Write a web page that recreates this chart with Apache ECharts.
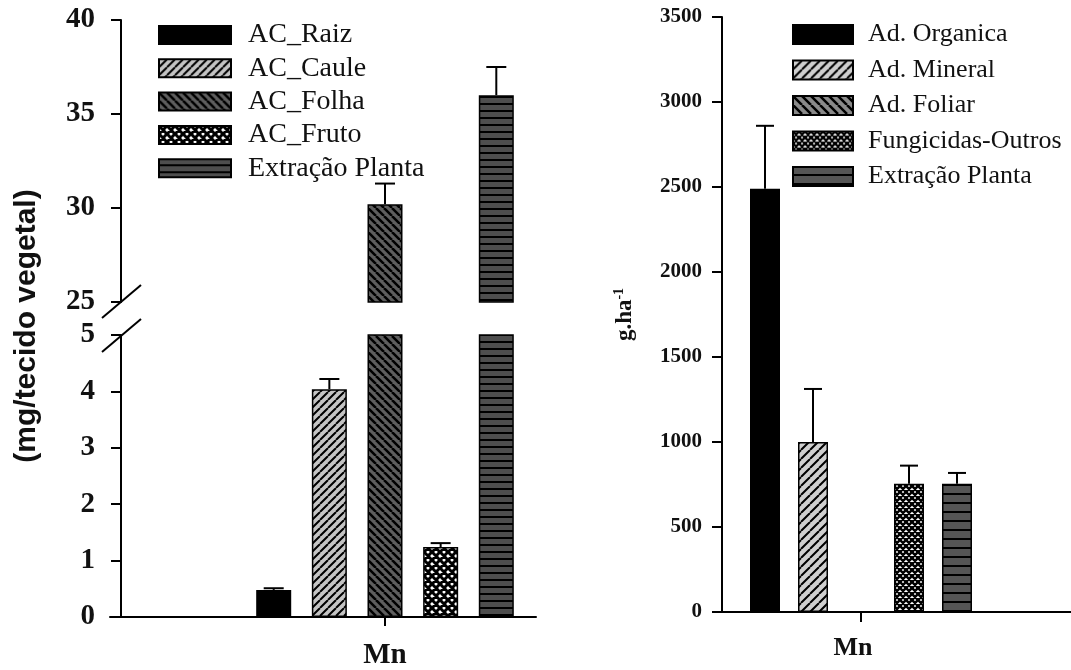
<!DOCTYPE html>
<html>
<head>
<meta charset="utf-8">
<title>Mn</title>
<script src="https://cdn.jsdelivr.net/npm/echarts@6.0.0/dist/echarts.min.js"></script>
<style>
  html, body { margin: 0; padding: 0; background: #fff; }
  #chart { width: 1071px; height: 670px; }
</style>
</head>
<body>
<div id="chart"></div>
<script>
// painel esquerdo: acumulo por orgao (mg/tecido vegetal), eixo quebrado 5 -> 25
const leftCategories = ['Mn'];
const leftNames = ['AC_Raiz', 'AC_Caule', 'AC_Folha', 'AC_Fruto', 'Extração Planta'];
const leftValues = [0.48, 4.04, 30.2, 1.24, 36.0];
const leftErrors = [0.03, 0.18, 1.1, 0.07, 1.5];
const leftLowerRange = [0, 5];
const leftUpperRange = [25, 40];

// painel direito: fontes de Mn (g.ha-1)
const rightCategories = ['Mn'];
const rightNames = ['Ad. Organica', 'Ad. Mineral', 'Ad. Foliar', 'Fungicidas-Outros', 'Extração Planta'];
const rightValues = [2490, 1000, 0, 755, 755];
const rightErrors = [370, 312, 0, 106, 63];
const rightRange = [0, 3500];

const SERIF = '"Liberation Serif", "Times New Roman", serif';
const LEFT_AXIS_X = 121;
const LEFT_PITCH = 35 * 1.59;
const RIGHT_PITCH = 30 * 1.6;

// hachuras via canvas
function pattern(size, bg, draw) {
  const c = document.createElement('canvas');
  c.width = size; c.height = size;
  const g = c.getContext('2d');
  g.fillStyle = bg;
  g.fillRect(0, 0, size, size);
  g.strokeStyle = '#000';
  draw(g, size);
  return { image: c, repeat: 'repeat' };
}
function slash(s, bg, lw) {
  return pattern(s, bg, (g) => {
    g.lineWidth = lw;
    g.beginPath();
    for (let k = -1; k <= 1; k++) { g.moveTo(k * s, s); g.lineTo(k * s + s, 0); }
    g.stroke();
  });
}
function backslash(s, bg, lw) {
  return pattern(s, bg, (g) => {
    g.lineWidth = lw;
    g.beginPath();
    for (let k = -1; k <= 1; k++) { g.moveTo(k * s, 0); g.lineTo(k * s + s, s); }
    g.stroke();
  });
}
function cross(s, lw) {
  return pattern(s, '#fff', (g) => {
    g.lineWidth = lw;
    g.beginPath();
    for (let k = -1; k <= 1; k++) {
      g.moveTo(k * s, s); g.lineTo(k * s + s, 0);
      g.moveTo(k * s, 0); g.lineTo(k * s + s, s);
    }
    g.stroke();
  });
}
function hlines(s, bg, lw) {
  return pattern(s, bg, (g) => {
    g.lineWidth = lw;
    g.beginPath();
    g.moveTo(0, s - lw / 2); g.lineTo(s, s - lw / 2);
    g.stroke();
  });
}

const leftFills = ['#000', slash(8, '#c4c4c4', 2), backslash(8, '#5e5e5e', 2.5), cross(8, 3), hlines(7, '#4e4e4e', 2)];
const rightFills = ['#000', slash(9, '#cfcfcf', 2), backslash(9, '#8a8a8a', 2.5), cross(6, 2.5), hlines(9, '#555', 2)];

function errorItem(pitch, cap) {
  return function (params, api) {
    const slot = api.value(1), v = api.value(2), e = api.value(3);
    const base = api.coord([api.value(0), v]);
    const top = api.coord([api.value(0), v + e]);
    const x = base[0] + (slot - 2) * pitch;
    const st = { stroke: '#000', lineWidth: 2 };
    return {
      type: 'group',
      children: [
        { type: 'line', shape: { x1: x, y1: base[1], x2: x, y2: top[1] }, style: st },
        { type: 'line', shape: { x1: x - cap / 2, y1: top[1], x2: x + cap / 2, y2: top[1] }, style: st }
      ]
    };
  };
}

const axisLineStyle = { color: '#000', width: 2 };
function valueAxis(gridIndex, range, interval, size, margin) {
  return {
    type: 'value', gridIndex, min: range[0], max: range[1], interval,
    axisLine: { show: true, lineStyle: axisLineStyle },
    axisTick: { show: true, length: 10, lineStyle: axisLineStyle },
    axisLabel: {
      fontFamily: SERIF, fontWeight: 'bold', fontSize: size, color: '#111', margin,
      showMinLabel: true, showMaxLabel: true, formatter: (v) => String(v)
    },
    splitLine: { show: false }
  };
}
function lineOnlyAxis(gridIndex) {
  return {
    type: 'value', gridIndex, min: 0, max: 1,
    axisLine: { show: true, onZero: false, lineStyle: axisLineStyle },
    axisTick: { show: false }, axisLabel: { show: false }, splitLine: { show: false }
  };
}

const series = [];
leftNames.forEach((name, i) => {
  const style = { color: leftFills[i], borderColor: '#000', borderWidth: 1.5 };
  series.push({
    name, type: 'bar', xAxisIndex: 0, yAxisIndex: 0, barWidth: 35, barGap: '59%', clip: true,
    data: [leftValues[i] >= leftUpperRange[0] ? leftValues[i] : '-'], itemStyle: style
  });
  series.push({
    name, type: 'bar', xAxisIndex: 1, yAxisIndex: 1, barWidth: 35, barGap: '59%', clip: true,
    data: [leftValues[i]], itemStyle: style
  });
});
rightNames.forEach((name, i) => {
  series.push({
    name: name === 'Extração Planta' ? 'Extração Planta ' : name,
    type: 'bar', xAxisIndex: 3, yAxisIndex: 3, barWidth: 30, barGap: '60%',
    data: [rightValues[i]], itemStyle: { color: rightFills[i], borderColor: '#000', borderWidth: 1.5 }
  });
});
series.push({
  type: 'custom', xAxisIndex: 0, yAxisIndex: 0, silent: true, encode: { x: 0, y: 2 },
  renderItem: errorItem(LEFT_PITCH, 20),
  data: leftValues.map((v, i) => [0, i, v, leftErrors[i]]).filter(d => d[2] >= leftUpperRange[0])
});
series.push({
  type: 'custom', xAxisIndex: 1, yAxisIndex: 1, silent: true, encode: { x: 0, y: 2 },
  renderItem: errorItem(LEFT_PITCH, 20),
  data: leftValues.map((v, i) => [0, i, v, leftErrors[i]]).filter(d => d[2] <= leftLowerRange[1])
});
series.push({
  type: 'custom', xAxisIndex: 3, yAxisIndex: 3, silent: true, encode: { x: 0, y: 2 },
  renderItem: errorItem(RIGHT_PITCH, 18),
  data: rightValues.map((v, i) => [0, i, v, rightErrors[i]]).filter(d => d[3] > 0)
});

const chart = echarts.init(document.getElementById('chart'));
chart.setOption({
  animation: false,
  backgroundColor: '#fff',
  grid: [
    { left: LEFT_AXIS_X, right: 422, top: 20, bottom: 368, outerBoundsMode: 'none' },
    { left: LEFT_AXIS_X, right: 422, top: 335, bottom: 53, outerBoundsMode: 'none' },
    { left: 110, right: 535, top: 600, bottom: 53, outerBoundsMode: 'none' },
    { left: 722, right: 71, top: 17, bottom: 58, outerBoundsMode: 'none' },
    { left: 713, right: 0, top: 590, bottom: 58, outerBoundsMode: 'none' }
  ],
  xAxis: [
    { type: 'category', gridIndex: 0, data: leftCategories, show: false },
    {
      type: 'category', gridIndex: 1, data: leftCategories,
      axisLine: { show: false },
      axisTick: { show: true, alignWithLabel: true, length: 9, lineStyle: axisLineStyle },
      axisLabel: { fontFamily: SERIF, fontWeight: 'bold', fontSize: 29, color: '#111', margin: 24 }
    },
    lineOnlyAxis(2),
    {
      type: 'category', gridIndex: 3, data: rightCategories,
      axisLine: { show: false },
      axisTick: { show: true, alignWithLabel: true, length: 10, lineStyle: axisLineStyle },
      axisLabel: { fontFamily: SERIF, fontWeight: 'bold', fontSize: 26, color: '#111', margin: 23, padding: [0, 16, 0, 0] }
    },
    lineOnlyAxis(4)
  ],
  yAxis: [
    valueAxis(0, leftUpperRange, 5, 29, 26),
    valueAxis(1, leftLowerRange, 1, 29, 26),
    { type: 'value', gridIndex: 2, show: false },
    Object.assign(valueAxis(3, rightRange, 500, 21, 20), {
      name: 'g.ha{b|-1}', nameLocation: 'middle', nameRotate: 90, nameGap: 84,
      nameTextStyle: {
        fontFamily: SERIF, fontWeight: 'bold', fontSize: 23, color: '#111', lineHeight: 26,
        rich: {
          b: { fontFamily: SERIF, fontWeight: 'bold', fontSize: 14, color: '#111', lineHeight: 14, verticalAlign: 'top' }
        }
      }
    }),
    { type: 'value', gridIndex: 4, show: false }
  ],
  legend: [
    {
      data: leftNames, orient: 'vertical', left: 158, top: 21, padding: 0,
      icon: 'rect', itemWidth: 72, itemHeight: 18, itemGap: 5.3, selectedMode: false,
      textStyle: { fontFamily: SERIF, fontSize: 28, color: '#111', lineHeight: 22, padding: [0, 0, 0, 12] }
    },
    {
      data: rightNames.map(n => (n === 'Extração Planta' ? 'Extração Planta ' : n)),
      orient: 'vertical', left: 792, top: 21.5, padding: 0,
      icon: 'rect', itemWidth: 60, itemHeight: 19, itemGap: 9.5, selectedMode: false,
      textStyle: { fontFamily: SERIF, fontSize: 26, color: '#111', lineHeight: 22, padding: [0, 0, 0, 10] }
    }
  ],
  series
});

// marcas de quebra do eixo e titulo do eixo esquerdo
const yBreakTop = chart.convertToPixel({ yAxisIndex: 0 }, leftUpperRange[0]);
const yBreakBottom = chart.convertToPixel({ yAxisIndex: 1 }, leftLowerRange[1]);
const breakStyle = { stroke: '#000', lineWidth: 2 };
chart.setOption({
  graphic: [
    { type: 'line', shape: { x1: LEFT_AXIS_X - 19, y1: yBreakTop + 16, x2: LEFT_AXIS_X + 20, y2: yBreakTop - 17 }, style: breakStyle },
    { type: 'line', shape: { x1: LEFT_AXIS_X - 19, y1: yBreakBottom + 17, x2: LEFT_AXIS_X + 20, y2: yBreakBottom - 16 }, style: breakStyle },
    {
      type: 'text', x: 27, y: 326, rotation: Math.PI / 2,
      style: { text: '(mg/tecido vegetal)', font: 'bold 30px "Liberation Sans", Arial, sans-serif', fill: '#111', align: 'center', verticalAlign: 'middle' }
    }
  ]
});
</script>
</body>
</html>
